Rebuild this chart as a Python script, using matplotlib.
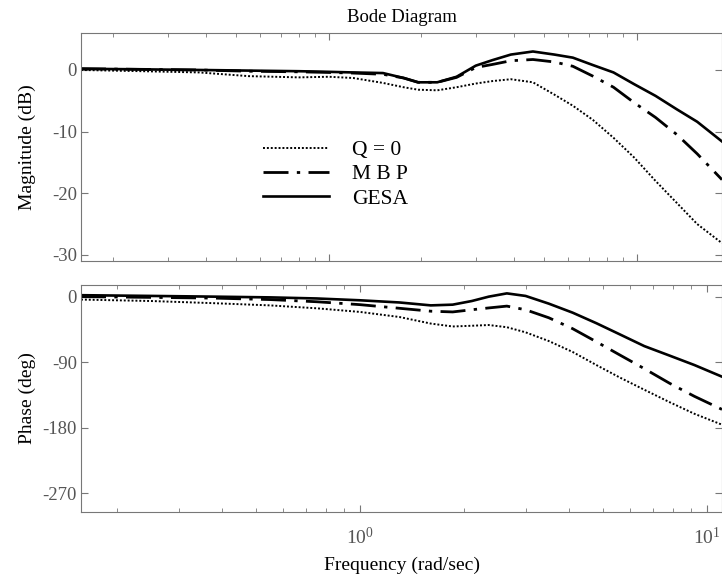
import matplotlib
matplotlib.use('Agg')
import matplotlib.pyplot as plt

plt.rcParams['font.family'] = ['Liberation Serif', 'DejaVu Serif']
plt.rcParams['mathtext.fontset'] = 'stix'
plt.rcParams['axes.unicode_minus'] = False

# magnitude panel (rad/sec, dB)
w_mag = [0.157, 0.25, 0.38, 0.55, 0.8, 1.0, 1.2, 1.5, 1.75, 1.95, 2.25, 2.6, 3.0,
         3.4, 3.9, 4.6, 5.4, 6.2, 7.2, 8.4, 9.8, 11.5, 13.5, 15.7, 18.9]
mag_q0 = [0.0, -0.2, -0.4, -1.0, -1.2, -1.1, -1.3, -2.1, -2.8, -3.2, -3.3, -2.8, -2.2,
          -1.8, -1.5, -2.0, -4.0, -5.8, -8.1, -11.0, -14.2, -18.0, -21.6, -25.0, -28.1]
mag_mbp = [0.2, 0.1, 0.0, -0.2, -0.3, -0.4, -0.5, -0.7, -1.3, -2.0, -2.0, -1.2, 0.4,
           0.9, 1.5, 1.7, 1.3, 0.6, -1.0, -2.8, -5.3, -7.7, -10.5, -13.6, -17.8]
mag_gesa = [0.2, 0.1, 0.0, -0.1, -0.2, -0.3, -0.4, -0.5, -1.3, -2.0, -2.0, -1.1, 0.7,
            1.6, 2.5, 3.0, 2.5, 2.0, 0.8, -0.4, -2.3, -4.2, -6.4, -8.4, -11.6]

# phase panel (rad/sec, deg)
w_ph = [0.157, 0.25, 0.38, 0.55, 0.75, 1.0, 1.3, 1.6, 1.85, 2.1, 2.35, 2.65, 3.0,
        3.5, 4.1, 4.8, 5.6, 6.6, 7.8, 9.2, 11.05]
ph_q0 = [-4, -6, -9, -12, -16, -21, -28, -37, -41, -40, -39, -42, -49,
         -61, -76, -94, -111, -128, -145, -161, -176]
ph_mbp = [0, -1, -2, -4, -7, -11, -16, -20, -21, -18, -15.5, -13, -18,
          -29, -44, -62, -80, -99, -119, -137, -155]
ph_gesa = [2, 1, 0, -1, -2.5, -5, -8, -12, -11, -6, 0, 4.5, 1,
           -9.6, -22, -36.5, -51.7, -68, -81, -94, -110]

labels = ['Q = 0', 'M B P', 'GESA']
styles = [dict(ls=(0, (1, 1)), lw=1.4),
          dict(ls=(0, (9, 3, 1.2, 3)), lw=2.0),
          dict(ls='-', lw=1.9)]

fig = plt.figure(figsize=(7.22, 5.78), dpi=100)
ax1 = fig.add_axes([0.1122, 0.5484, 0.8878, 0.3945])
ax2 = fig.add_axes([0.1122, 0.1142, 0.8878, 0.3927])

for ys, lab, st in zip([mag_q0, mag_mbp, mag_gesa], labels, styles):
    ax1.semilogx(w_mag, ys, color='black', label=lab, **st)
for ys, st in zip([ph_q0, ph_mbp, ph_gesa], styles):
    ax2.semilogx(w_ph, ys, color='black', **st)

ax1.set_xlim(0.157, 18.9)
ax1.set_ylim(-31, 6)
ax1.set_yticks([0, -10, -20, -30])
ax1.tick_params(axis='x', which='both', labelbottom=False)

ax2.set_xlim(0.157, 11.05)
ax2.set_ylim(-296, 16)
ax2.set_yticks([0, -90, -180, -270])

for ax in (ax1, ax2):
    for sp in ax.spines.values():
        sp.set_color('#777777')
    ax.tick_params(which='both', direction='in', top=True, right=True,
                   colors='#777777', labelcolor='#555555', labelsize=13.5, pad=3)
    ax.tick_params(which='major', length=5)
    ax.tick_params(which='minor', length=3)
ax2.tick_params(axis='x', which='major', labelsize=14, pad=11)

ax1.set_title('Bode Diagram', fontsize=13.5, pad=8)
ax1.set_ylabel('Magnitude (dB)', fontsize=14)
ax2.set_ylabel('Phase (deg)', fontsize=14)
ax2.set_xlabel('Frequency (rad/sec)', fontsize=14, labelpad=6)
ax1.yaxis.set_label_coords(-0.07, 0.5)
ax2.yaxis.set_label_coords(-0.07, 0.5)

ax1.legend(loc='center left', bbox_to_anchor=(0.284, 0.38), frameon=False,
           fontsize=15.5, handlelength=3.07, handletextpad=1.07, labelspacing=0.2,
           borderpad=0, borderaxespad=0)

fig.savefig('out.png', dpi=100)
